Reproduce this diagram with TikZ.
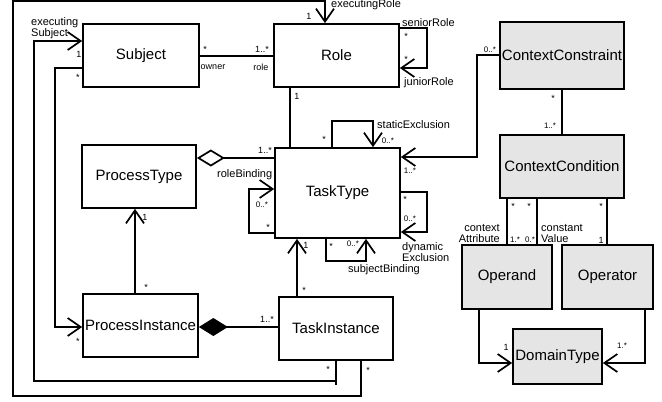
\documentclass[tikz,border=0pt]{standalone}
\usepackage{fontspec}
\setmainfont{Liberation Sans}
\usetikzlibrary{arrows.meta}
\begin{document}
\begin{tikzpicture}[x=1pt,y=-1pt,
  box/.style={draw, line width=1.7pt, inner sep=0pt, font=\fontsize{15}{18}\selectfont},
  gbox/.style={box, fill=black!10},
  ln/.style={line width=1.7pt},
  oarr/.style={ln, -{Straight Barb[length=13pt,width=18pt]}},
  lab/.style={font=\fontsize{11}{12}\selectfont, inner sep=0pt},
  mult/.style={font=\fontsize{9}{10}\selectfont, inner sep=0pt},
  smult/.style={font=\fontsize{8}{9}\selectfont, inner sep=0pt}]
\useasboundingbox (0,0) rectangle (662,402);
% boxes
\node[box, minimum width=116pt, minimum height=63pt] (subject) at (141,55.5) {Subject};
\node[box, minimum width=125pt, minimum height=63pt] (role) at (336.5,55.5) {Role};
\node[gbox, minimum width=124pt, minimum height=67pt] (cc) at (562,55.5) {ContextConstraint};
\node[gbox, minimum width=124pt, minimum height=63pt] (ccond) at (562,166.5) {ContextCondition};
\node[gbox, minimum width=90pt, minimum height=64pt] (operand) at (507,277) {Operand};
\node[gbox, minimum width=91pt, minimum height=64pt] (operator) at (607.5,277) {Operator};
\node[gbox, minimum width=89pt, minimum height=55pt] (domain) at (557.5,356.5) {DomainType};
\node[box, minimum width=125pt, minimum height=90pt] (tasktype) at (337.5,193) {TaskType};
\node[box, minimum width=114pt, minimum height=63pt] (ptype) at (139,176.5) {ProcessType};
\node[box, minimum width=115pt, minimum height=63pt] (pinst) at (140.5,325.5) {ProcessInstance};
\node[box, minimum width=114pt, minimum height=63pt] (tinst) at (336,328.5) {TaskInstance};
% frame coordinates
\coordinate (erTop) at (325,1);
\coordinate (tl) at (13,1);
\coordinate (bl) at (13,396);
\coordinate (br) at (361,396);
\coordinate (esA) at (336,381);
\coordinate (esB) at (34,381);
\coordinate (esC) at (34,41);
\coordinate (esT) at (336,385);
\coordinate (spA) at (55,68);
\coordinate (spB) at (55,327);
% executingRole
\draw[oarr] (tinst.south -| br) -- (br) -- (bl) -- (tl) -- (erTop) -- (role.north -| erTop);
\node[lab, anchor=base west] (erl) at (331,7) {executingRole};
\node[mult] (er1) at (309,16) {1};
% executingSubject
\draw[ln] (tinst.south -| esT) -- (esT);
\draw[oarr] (esA) -- (esB) -- (esC) -- (subject.west |- esC);
\node[lab, anchor=base west] (es1) at (31,25) {executing};
\node[lab, anchor=base west] (es2) at (31,36) {Subject};
\node[mult] (es3) at (79,54) {1};
\node[mult] (es4) at (328,369) {*};
\node[mult] (er2) at (368,370) {*};
% subject - processinstance
\draw[oarr] (subject.west |- spA) -- (spA) -- (spB) -- (pinst.west |- spB);
\node[mult] (sp1) at (78,77) {*};
\node[mult] (sp2) at (78,341) {*};
% subject - role
\draw[ln] (subject.east |- 0,56) -- (role.west |- 0,56);
\node[mult] (sr1) at (205,49) {*};
\node[mult] (sr2) at (213,67) {owner};
\node[mult] (sr3) at (262,49) {1..*};
\node[mult] (sr4) at (261,67) {role};
% role self loop
\draw[oarr] (role.east |- 0,28) -- (427,28) -- (427,68) -- (role.east |- 0,68);
\node[lab, anchor=base west] (rl1) at (402,26) {seniorRole};
\node[mult] (rl2) at (406,36) {*};
\node[mult] (rl3) at (406,59) {*};
\node[lab, anchor=base west] (rl4) at (404,85) {juniorRole};
% role - tasktype
\draw[ln] (role.south -| 290,0) -- (tasktype.north -| 290,0);
\node[mult] (rt1) at (297,96) {1};
% staticExclusion
\draw[oarr] (tasktype.north -| 332,0) -- (332,121) -- (373,121) -- (tasktype.north -| 373,0);
\node[mult] (se1) at (324,139) {*};
\node[smult] (se2) at (388,141) {0..*};
\node[lab, anchor=base west] (se3) at (377,128) {staticExclusion};
% context constraint - tasktype
\draw[oarr] (cc.west |- 0,55) -- (477,55) -- (477,157) -- (tasktype.east |- 0,157);
\node[smult] (ct1) at (490,50) {0..*};
\node[smult] (ct2) at (410,171) {1..*};
% cc - ccond
\draw[ln] (cc.south -| 562,0) -- (ccond.north -| 562,0);
\node[mult] (cq1) at (553,98) {*};
\node[smult] (cq2) at (550,126) {1..*};
% roleBinding
\draw[ln, {Diamond[open,length=28pt,width=17pt]}-] (ptype.east |- 0,158) -- (tasktype.west |- 0,158);
\node[mult] (rb1) at (265,150) {1..*};
\node[lab, anchor=base west] (rb2) at (217,177) {roleBinding};
% left loop
\draw[oarr] (tasktype.west |- 0,233) -- (249,233) -- (249,189) -- (tasktype.west |- 0,189);
\node[smult] (ll1) at (262,205) {0..*};
\node[mult] (ll2) at (268,227) {*};
% subjectBinding
\draw[oarr] (tasktype.south -| 326,0) -- (326,261) -- (366,261) -- (tasktype.south -| 366,0);
\node[mult] (sb1) at (331,246) {*};
\node[smult] (sb2) at (353,244) {0..*};
\node[lab, anchor=base west] (sb3) at (348,272) {subjectBinding};
% dynamicExclusion
\draw[oarr] (tasktype.east |- 0,192) -- (427,192) -- (427,232) -- (tasktype.east |- 0,232);
\node[mult] (de1) at (405,199) {*};
\node[smult] (de2) at (410,219) {0..*};
\node[lab, anchor=base west] (de3) at (402,250) {dynamic};
\node[lab, anchor=base west] (de4) at (402,261) {Exclusion};
% processtype - processinstance
\draw[oarr] (pinst.north -| 135,0) -- (ptype.south -| 135,0);
\node[mult] (pp1) at (145,217) {1};
\node[mult] (pp2) at (146,287) {*};
% taskinstance - tasktype
\draw[oarr] (tinst.north -| 297,0) -- (tasktype.south -| 297,0);
\node[mult] (tt1) at (306,245) {1};
\node[mult] (tt2) at (304,290) {*};
% composition
\draw[ln, {Diamond[length=29pt,width=18pt]}-] (pinst.east |- 0,327) -- (tinst.west |- 0,327);
\node[mult] (cp1) at (267,319) {1..*};
% ccond - operand
\draw[ln] (ccond.south -| 507,0) -- (operand.north -| 507,0);
\draw[ln] (ccond.south -| 537,0) -- (operand.north -| 537,0);
\node[mult] (co1) at (513,206) {*};
\node[mult] (co2) at (529,206) {*};
\node[lab, anchor=base east] (co3) at (500,231) {context};
\node[lab, anchor=base east] (co4) at (500,242) {Attribute};
\node[smult] (co5) at (515,240) {1.*};
\node[smult] (co6) at (530,240) {0.*};
\node[lab, anchor=base west] (co7) at (541,231) {constant};
\node[lab, anchor=base west] (co8) at (541,242) {Value};
% ccond - operator
\draw[ln] (ccond.south -| 607,0) -- (operator.north -| 607,0);
\node[mult] (cr1) at (601,206) {*};
\node[mult] (cr2) at (601,240) {1};
% operand - domain
\draw[oarr] (operand.south -| 479,0) -- (479,363) -- (domain.west |- 0,363);
\node[mult] (od1) at (506,347) {1};
% operator - domain
\draw[oarr] (operator.south -| 645,0) -- (645,363) -- (domain.east |- 0,363);
\node[smult] (od2) at (622,346) {1.*};
\end{tikzpicture}
\end{document}
